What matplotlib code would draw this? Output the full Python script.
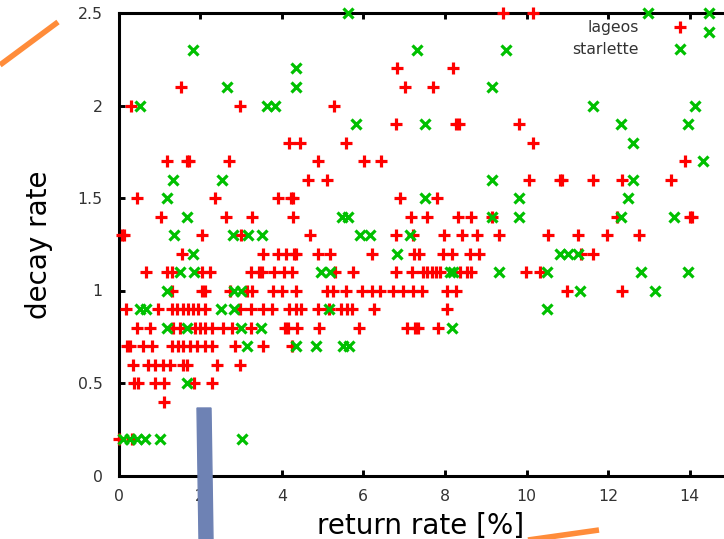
"""Scatter decay rate vs return rate (lageos / starlette), stile gnuplot."""
import matplotlib
matplotlib.use("Agg")
import matplotlib.pyplot as plt
from matplotlib.lines import Line2D
from matplotlib.patches import Polygon

# ── Dati ───────────────────────────────────────────────────────────────
# (return rate [%], decay rate)
lageos = [
    (9.42, 2.5), (10.16, 2.5),
    (6.83, 2.2), (8.20, 2.2),
    (1.53, 2.1), (7.02, 2.1), (7.70, 2.1),
    (0.30, 2.0), (2.98, 2.0), (5.28, 2.0),
    (6.79, 1.9), (8.26, 1.9), (8.34, 1.9), (9.82, 1.9),
    (4.18, 1.8), (4.45, 1.8), (5.57, 1.8), (10.15, 1.8),
    (1.18, 1.7), (1.68, 1.7), (1.74, 1.7), (2.71, 1.7), (4.90, 1.7),
    (6.02, 1.7), (6.43, 1.7), (13.88, 1.7),
    (4.65, 1.6), (5.10, 1.6), (10.06, 1.6), (10.81, 1.6), (10.87, 1.6),
    (11.63, 1.6), (12.33, 1.6), (13.54, 1.6),
    (0.45, 1.5), (2.37, 1.5), (3.91, 1.5), (4.22, 1.5), (4.28, 1.5),
    (6.90, 1.5), (7.80, 1.5),
    (1.03, 1.4), (2.63, 1.4), (3.26, 1.4), (4.27, 1.4), (7.16, 1.4),
    (7.55, 1.4), (8.32, 1.4), (8.64, 1.4), (9.16, 1.4), (12.21, 1.4),
    (14.00, 1.4), (14.06, 1.4),
    (0.08, 1.3), (0.14, 1.3), (2.04, 1.3), (3.00, 1.3), (4.69, 1.3),
    (6.79, 1.3), (7.21, 1.3), (7.99, 1.3), (8.43, 1.3), (8.78, 1.3),
    (9.33, 1.3), (10.52, 1.3), (11.25, 1.3), (11.97, 1.3), (12.76, 1.3),
    (1.55, 1.2), (3.55, 1.2), (3.92, 1.2), (4.10, 1.2), (4.29, 1.2),
    (4.34, 1.2), (4.90, 1.2), (5.18, 1.2), (6.21, 1.2), (7.24, 1.2),
    (7.37, 1.2), (7.96, 1.2), (8.18, 1.2), (8.62, 1.2), (8.84, 1.2),
    (11.33, 1.2), (11.62, 1.2),
    (0.67, 1.1), (1.18, 1.1), (1.30, 1.1), (2.04, 1.1), (2.24, 1.1),
    (3.24, 1.1), (3.44, 1.1), (3.52, 1.1), (3.80, 1.1), (4.06, 1.1),
    (4.26, 1.1), (5.31, 1.1), (5.74, 1.1), (6.80, 1.1), (7.19, 1.1),
    (7.46, 1.1), (7.57, 1.1), (7.68, 1.1), (7.78, 1.1), (7.88, 1.1),
    (8.37, 1.1), (8.53, 1.1), (8.63, 1.1), (9.99, 1.1), (10.33, 1.1),
    (1.32, 1.0), (2.04, 1.0), (2.12, 1.0), (2.73, 1.0), (3.16, 1.0),
    (3.26, 1.0), (3.79, 1.0), (4.00, 1.0), (4.34, 1.0), (5.11, 1.0),
    (5.25, 1.0), (5.57, 1.0), (5.98, 1.0), (6.21, 1.0), (6.42, 1.0),
    (6.74, 1.0), (6.97, 1.0), (7.21, 1.0), (7.45, 1.0), (8.06, 1.0),
    (8.27, 1.0), (10.99, 1.0), (12.35, 1.0),
    (0.18, 0.9), (0.98, 0.9), (1.30, 0.9), (1.43, 0.9), (1.58, 0.9),
    (1.70, 0.9), (1.83, 0.9), (1.95, 0.9), (2.12, 0.9), (2.98, 0.9),
    (3.24, 0.9), (3.54, 0.9), (3.75, 0.9), (4.19, 0.9), (4.35, 0.9),
    (4.47, 0.9), (4.88, 0.9), (5.17, 0.9), (5.45, 0.9), (5.59, 0.9),
    (5.73, 0.9), (6.25, 0.9), (8.05, 0.9),
    (0.45, 0.8), (0.77, 0.8), (1.34, 0.8), (1.51, 0.8), (1.88, 0.8),
    (2.00, 0.8), (2.12, 0.8), (2.28, 0.8), (2.57, 0.8), (2.77, 0.8),
    (3.24, 0.8), (4.08, 0.8), (4.16, 0.8), (4.37, 0.8), (4.92, 0.8),
    (5.90, 0.8), (7.06, 0.8), (7.27, 0.8), (7.35, 0.8), (7.82, 0.8),
    (0.20, 0.7), (0.28, 0.7), (0.60, 0.7), (0.83, 0.7), (1.30, 0.7),
    (1.45, 0.7), (1.58, 0.7), (1.75, 0.7), (1.92, 0.7), (2.12, 0.7),
    (2.30, 0.7), (2.86, 0.7), (3.55, 0.7), (4.25, 0.7),
    (0.36, 0.6), (0.73, 0.6), (0.89, 0.6), (1.08, 0.6), (1.26, 0.6),
    (1.59, 0.6), (1.67, 0.6), (2.42, 0.6), (2.98, 0.6),
    (0.38, 0.5), (0.48, 0.5), (0.89, 0.5), (1.12, 0.5), (1.85, 0.5),
    (2.30, 0.5),
    (1.12, 0.4),
    (0.00, 0.2), (0.32, 0.2),
]

starlette = [
    (5.63, 2.5), (12.98, 2.5), (14.47, 2.5),
    (14.47, 2.4),
    (1.83, 2.3), (7.32, 2.3), (9.50, 2.3),
    (4.35, 2.2),
    (2.66, 2.1), (4.35, 2.1), (9.15, 2.1),
    (0.53, 2.0), (3.63, 2.0), (3.84, 2.0), (11.63, 2.0), (14.13, 2.0),
    (5.82, 1.9), (7.51, 1.9), (12.32, 1.9), (13.97, 1.9),
    (12.61, 1.8),
    (14.32, 1.7),
    (1.34, 1.6), (2.53, 1.6), (9.15, 1.6), (12.61, 1.6),
    (1.18, 1.5), (7.51, 1.5), (9.82, 1.5), (12.49, 1.5),
    (1.67, 1.4), (5.48, 1.4), (5.62, 1.4), (9.16, 1.4), (9.82, 1.4),
    (12.32, 1.4), (13.62, 1.4),
    (1.36, 1.3), (2.81, 1.3), (3.18, 1.3), (3.52, 1.3), (5.92, 1.3),
    (6.17, 1.3), (7.14, 1.3),
    (1.83, 1.2), (6.82, 1.2), (10.82, 1.2), (11.02, 1.2), (11.25, 1.2),
    (1.51, 1.1), (1.85, 1.1), (4.96, 1.1), (5.18, 1.1), (8.13, 1.1),
    (8.21, 1.1), (9.33, 1.1), (10.50, 1.1), (12.81, 1.1), (13.97, 1.1),
    (1.18, 1.0), (2.82, 1.0), (3.00, 1.0), (11.31, 1.0), (13.15, 1.0),
    (0.53, 0.9), (0.67, 0.9), (2.52, 0.9), (2.82, 0.9), (5.17, 0.9),
    (10.50, 0.9),
    (1.18, 0.8), (1.67, 0.8), (3.00, 0.8), (3.49, 0.8), (8.17, 0.8),
    (3.14, 0.7), (4.35, 0.7), (4.84, 0.7), (5.51, 0.7), (5.66, 0.7),
    (1.67, 0.5),
    (0.11, 0.2), (0.28, 0.2), (0.45, 0.2), (0.65, 0.2), (1.02, 0.2),
    (3.02, 0.2),
]

x_ticks = [0, 2, 4, 6, 8, 10, 12, 14]
x_tick_labels = ["0", "2", "4", "6", "8", "10", "12", "14"]
y_ticks = [0, 0.5, 1, 1.5, 2, 2.5]
y_tick_labels = ["0", "0.5", "1", "1.5", "2", "2.5"]

# ── Figura ─────────────────────────────────────────────────────────────
W, H = 724, 539


def px(x, y):
    """Pixel (dall'alto a sinistra) -> frazione di figura."""
    return x / W, 1 - y / H


fig = plt.figure(figsize=(W / 100, H / 100), dpi=100)
# area dati: x=0 a 118.5 px, x=15 a 730.5 px (fuori dal bordo), y da 475.5 a 13
ax = fig.add_axes([118.5 / W, (H - 475.5) / H, 612 / W, 462.5 / H])

lx, ly = zip(*lageos)
sx, sy = zip(*starlette)
ax.plot(lx, ly, linestyle="none", marker="+", ms=8, mew=2.3,
        color="#ff0000", clip_on=False, label="lageos", zorder=3)
ax.plot(sx, sy, linestyle="none", marker="x", ms=6.5, mew=2.3,
        color="#00c000", clip_on=False, label="starlette", zorder=4)

ax.set_xlim(0, 15)
ax.set_ylim(0, 2.5)
ax.set_xticks(x_ticks, x_tick_labels)
ax.set_yticks(y_ticks, y_tick_labels)
ax.tick_params(direction="in", length=4.5, width=2.1, top=True, right=True,
               labelsize=11.3, labelcolor="#333333", color="black")
ax.tick_params(axis="y", pad=11.5)
ax.tick_params(axis="x", pad=9.5)
for sp in ax.spines.values():
    sp.set_linewidth(2.2)

ax.legend(loc="upper right", markerfirst=False, frameon=False,
          bbox_to_anchor=px(696, 20), bbox_transform=fig.transFigure,
          fontsize=11.3, handlelength=2, handletextpad=1.65,
          labelspacing=0.45, borderpad=0, borderaxespad=0, numpoints=1,
          labelcolor="#333333")

fig.text(*px(39, 245), "decay rate", rotation=90, ha="center", va="center",
         fontsize=20)
fig.text(*px(420.5, 534), "return rate [%]", ha="center", va="baseline",
         fontsize=20)

# ── Segni sovrapposti all'immagine ─────────────────────────────────────
fig.add_artist(Line2D(*zip(px(0, 65), px(58, 22)), color="#ff8c3a", lw=4,
                      transform=fig.transFigure, solid_capstyle="butt"))
fig.add_artist(Line2D(*zip(px(528, 540), px(599, 530)), color="#ff8c3a",
                      lw=4, transform=fig.transFigure, solid_capstyle="butt"))
fig.add_artist(Polygon([px(197, 408), px(211, 408), px(213, 539), px(199, 539)],
                       closed=True, color="#6e82b4", transform=fig.transFigure,
                       zorder=5))

fig.savefig("out.png", dpi=100)
